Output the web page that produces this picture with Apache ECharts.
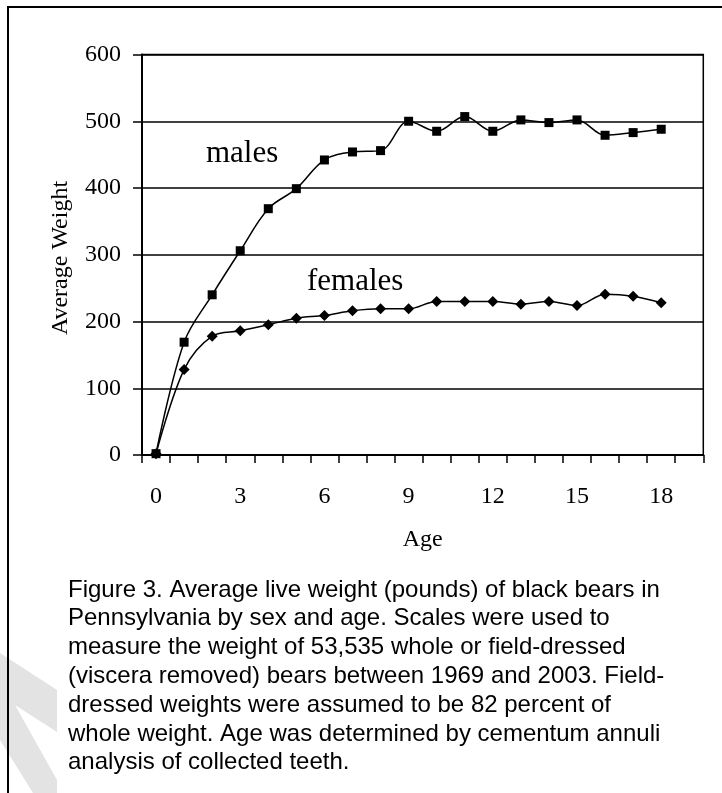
<!DOCTYPE html>
<html>
<head>
<meta charset="utf-8">
<script src="https://cdn.jsdelivr.net/npm/echarts@6/dist/echarts.min.js"></script>
<style>
html,body{margin:0;padding:0;background:#fff;}
#c{width:722px;height:793px;}
</style>
</head>
<body>
<div id="c"></div>
<script>
// Data
var ages = ['0','1','2','3','4','5','6','7','8','9','10','11','12','13','14','15','16','17','18','19'];
var males = [2, 169, 240, 306, 369, 399, 442, 454, 456, 500, 485, 507, 485, 502, 498, 502, 479, 483, 488];
var females = [2, 128, 178, 186, 195, 205, 209, 216, 219, 219, 230, 230, 230, 226, 230, 224, 241, 238, 228];
var yTicks = { min: 0, max: 600, interval: 100 };
var yName = 'Average Weight';
var xName = 'Age';
var captionLines = [
  'Figure 3. Average live weight (pounds) of black bears in',
  'Pennsylvania by sex and age. Scales were used to',
  'measure the weight of 53,535 whole or field-dressed',
  '(viscera removed) bears between 1969 and 2003. Field-',
  'dressed weights were assumed to be 82 percent of',
  'whole weight. Age was determined by cementum annuli',
  'analysis of collected teeth.'
];

var serif = '"Liberation Serif", "Times New Roman", serif';
var sans = '"Liberation Sans", Arial, sans-serif';

var chart = echarts.init(document.getElementById('c'), null, {renderer: 'canvas'});

var graphics = [
  // watermark
  {
    type: 'polygon', z: -10, silent: true,
    shape: { points: [[0,653],[57,690],[57,732],[15,705],[57,780],[57,793],[33,793],[0,740]] },
    style: { fill: '#e3e3e3' }
  },
  // outer frame
  {
    type: 'rect', z: 100, silent: true,
    shape: { x: 8, y: 7, width: 730, height: 820 },
    style: { fill: 'none', stroke: '#000', lineWidth: 2 }
  },
  // y axis title
  {
    type: 'text', silent: true,
    x: 61, y: 258, rotation: Math.PI / 2,
    style: { text: yName, font: '24px ' + serif, fill: '#000', align: 'center', verticalAlign: 'middle' }
  },
  // series annotations
  {
    type: 'text', silent: true, x: 206, y: 154,
    style: { text: 'males', font: '31px ' + serif, fill: '#000', align: 'left', verticalAlign: 'middle' }
  },
  {
    type: 'text', silent: true, x: 307, y: 282,
    style: { text: 'females', font: '31px ' + serif, fill: '#000', align: 'left', verticalAlign: 'middle' }
  }
];
captionLines.forEach(function (t, i) {
  graphics.push({
    type: 'text', silent: true, x: 68, y: 590 + 28.8 * i,
    style: { text: t, font: '24px ' + sans, fill: '#000', align: 'left', verticalAlign: 'middle' }
  });
});

chart.setOption({
  animation: false,
  backgroundColor: '#fff',
  grid: {
    left: 142, top: 54.5, right: 18.7, bottom: 338,
    show: true, borderColor: '#000', borderWidth: 1.5, backgroundColor: 'transparent'
  },
  xAxis: {
    type: 'category',
    data: ages,
    boundaryGap: true,
    name: xName,
    nameLocation: 'middle',
    nameGap: 73,
    nameTextStyle: { fontFamily: serif, fontSize: 24, color: '#000', verticalAlign: 'top' },
    axisLine: { lineStyle: { color: '#000', width: 2 } },
    axisTick: { show: true, interval: 0, length: 8, lineStyle: { color: '#000', width: 1.5 } },
    axisLabel: { interval: 2, margin: 30, fontFamily: serif, fontSize: 24, color: '#000' },
    splitLine: { show: false }
  },
  yAxis: {
    type: 'value',
    min: yTicks.min, max: yTicks.max, interval: yTicks.interval,
    axisLine: { show: true, lineStyle: { color: '#000', width: 2 } },
    axisTick: { show: true, length: 9, lineStyle: { color: '#000', width: 1.5 } },
    axisLabel: { margin: 21, fontFamily: serif, fontSize: 24, color: '#000' },
    splitLine: { show: true, lineStyle: { color: '#000', width: 1.5 } }
  },
  series: [
    {
      name: 'males', type: 'line', data: males, smooth: 0.35,
      symbol: 'rect', symbolSize: 9, showAllSymbol: true,
      lineStyle: { color: '#000', width: 1.5 },
      itemStyle: { color: '#000' }
    },
    {
      name: 'females', type: 'line', data: females, smooth: 0.35,
      symbol: 'diamond', symbolSize: 11, showAllSymbol: true,
      lineStyle: { color: '#000', width: 1.5 },
      itemStyle: { color: '#000' }
    }
  ],
  graphic: graphics
});
</script>
</body>
</html>
